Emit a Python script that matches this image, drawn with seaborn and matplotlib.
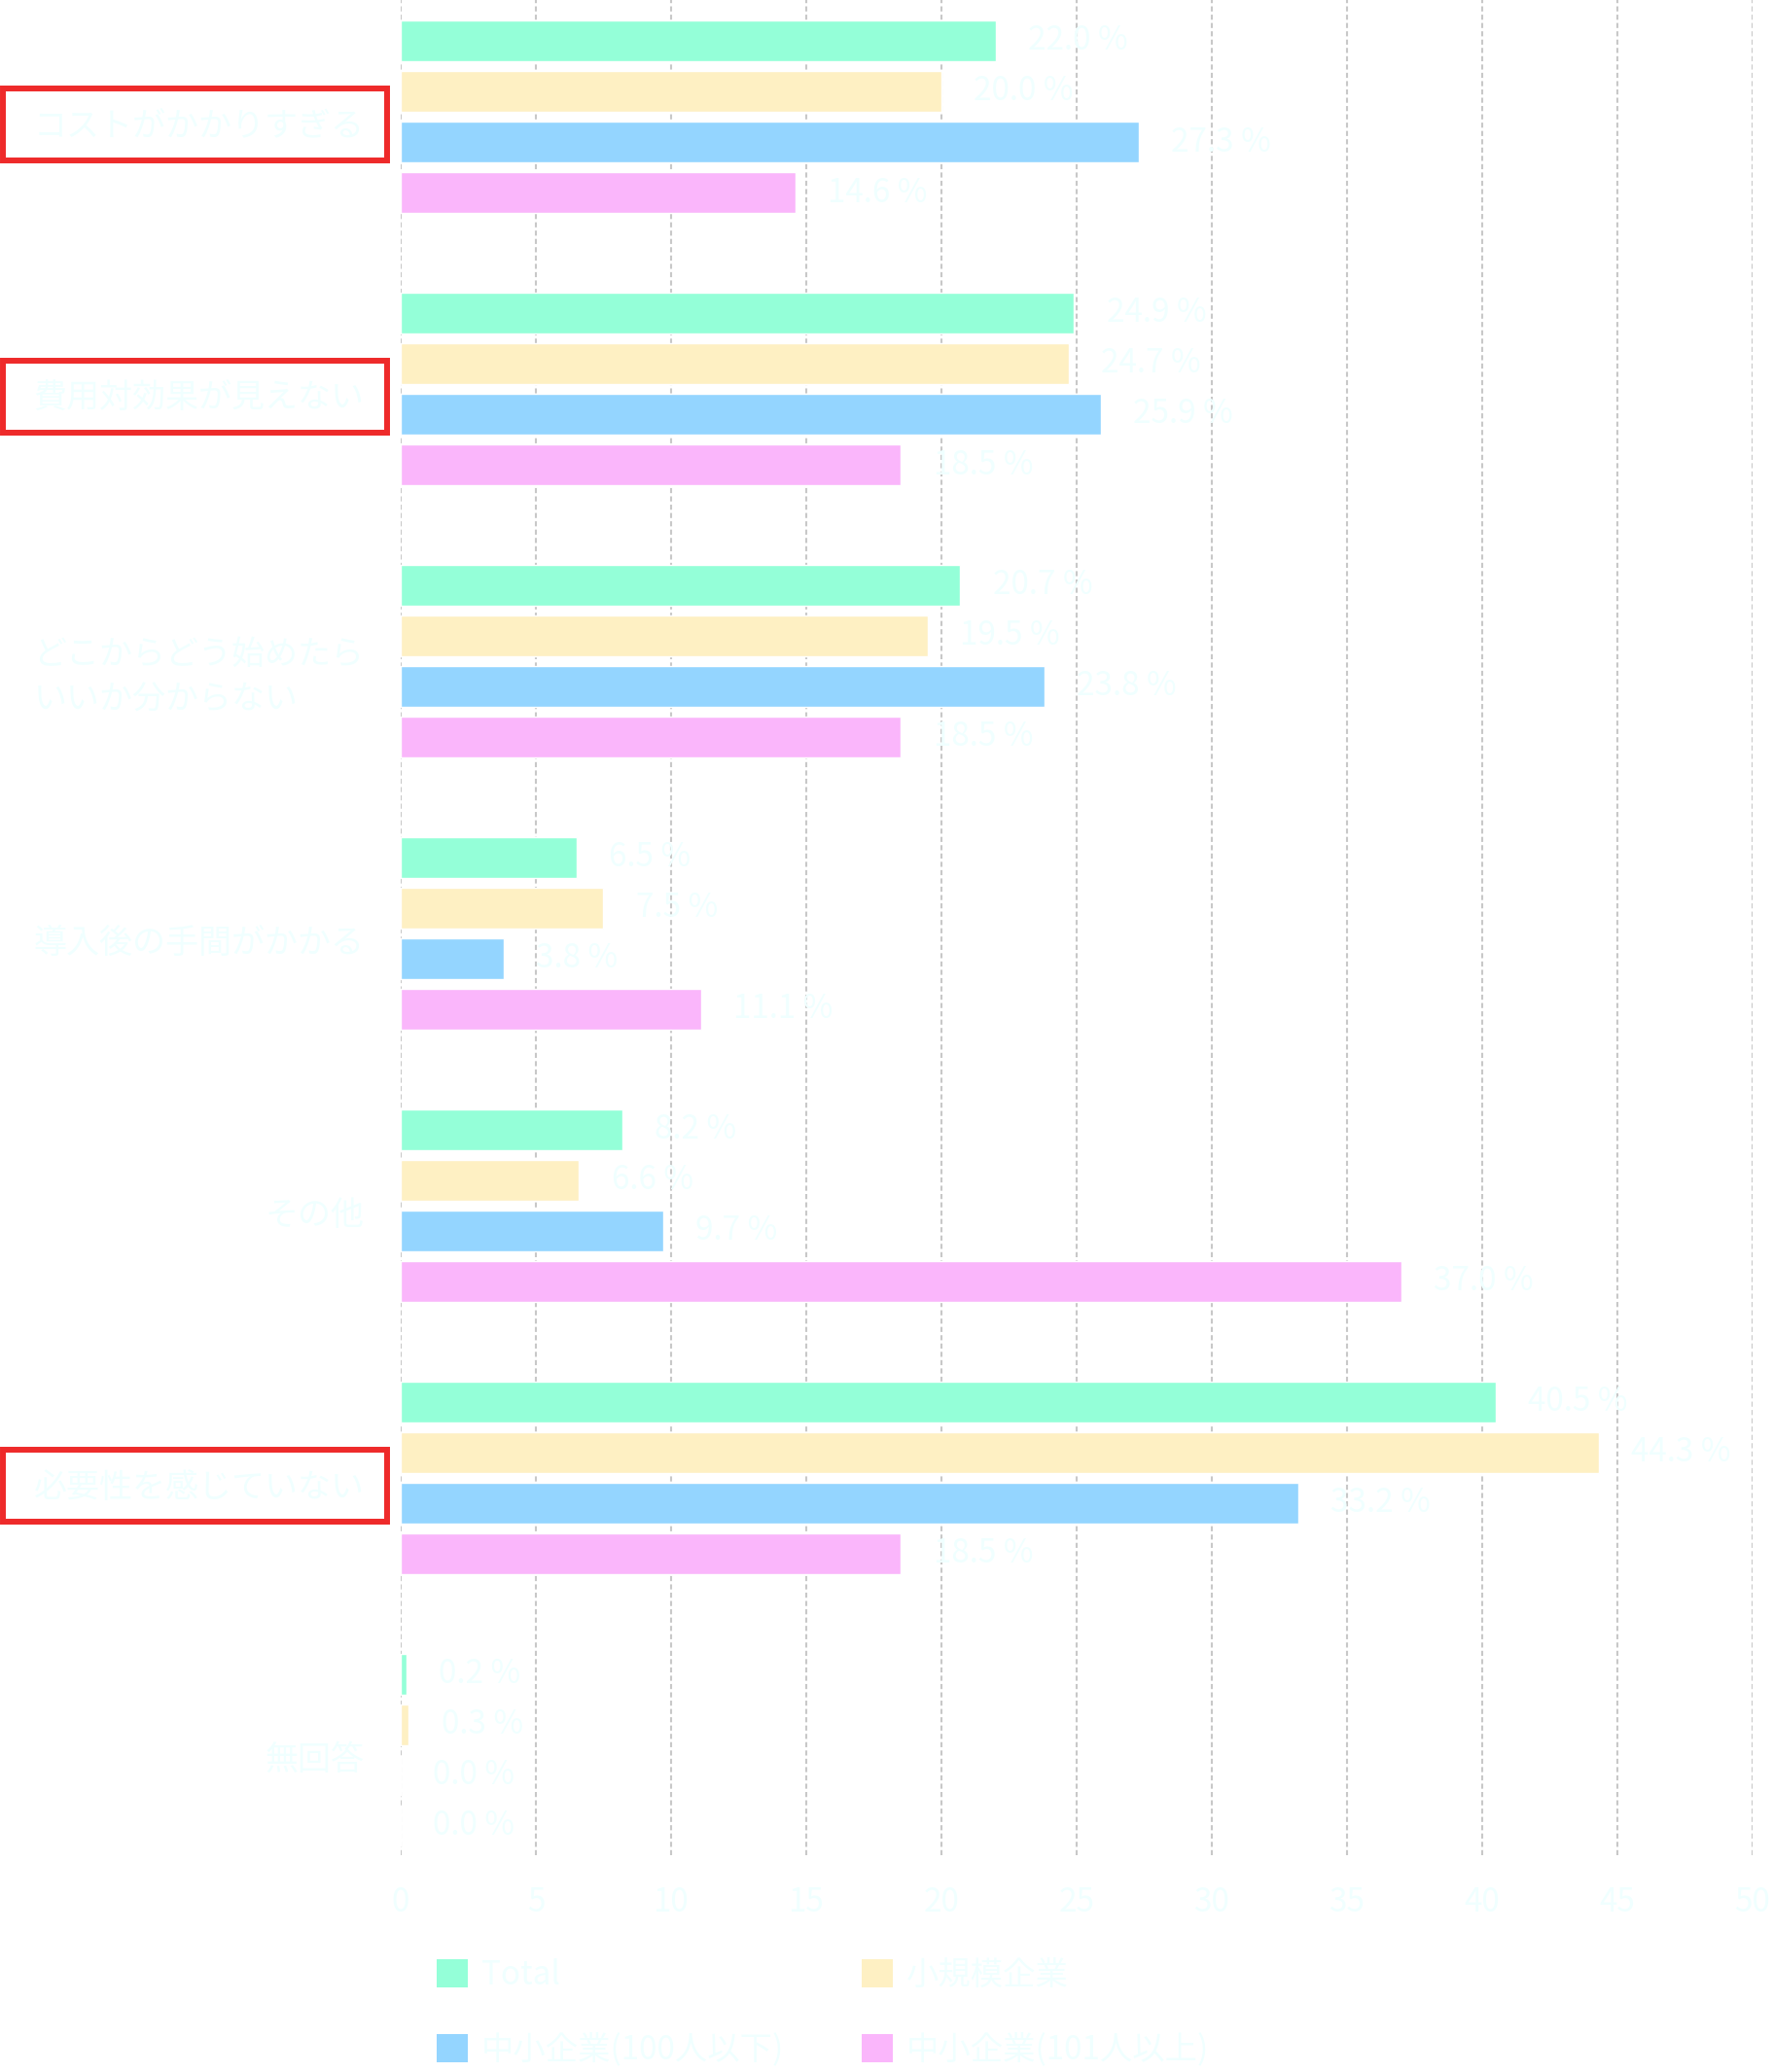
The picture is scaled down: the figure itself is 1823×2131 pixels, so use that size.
import matplotlib
matplotlib.use("Agg")
import matplotlib.pyplot as plt
import matplotlib.transforms as mtransforms
from matplotlib.patches import Rectangle, Patch
import seaborn as sns
import pandas as pd

categories = [
    "コストがかかりすぎる",
    "費用対効果が見えない",
    "どこからどう始めたら\nいいか分からない",
    "導入後の手間がかかる",
    "その他",
    "必要性を感じていない",
    "無回答",
]
series = ["Total", "小規模企業", "中小企業(100人以下)", "中小企業(101人以上)"]

total = [22.0, 24.9, 20.7, 6.5, 8.2, 40.5, 0.2]
small = [20.0, 24.7, 19.5, 7.5, 6.6, 44.3, 0.3]
sme_100 = [27.3, 25.9, 23.8, 3.8, 9.7, 33.2, 0.0]
sme_101 = [14.6, 18.5, 18.5, 11.1, 37.0, 18.5, 0.0]

highlighted = [0, 1, 5]

colors = ["#94FFD8", "#FEF0C3", "#94D5FF", "#FAB6FB"]
text_color = "#F0FFFF"

rows = []
for name, vals in zip(series, [total, small, sme_100, sme_101]):
    for cat, v in zip(categories, vals):
        rows.append({"category": cat, "series": name, "value": v})
df = pd.DataFrame(rows)

sns.set_theme(style="white")
plt.rcParams["font.family"] = ["Noto Sans CJK JP", "DejaVu Sans"]

fig = plt.figure(figsize=(18.24, 21.31), dpi=100)
ax = fig.add_axes([412 / 1824, 1 - 1908 / 2131, 1390 / 1824, 1908 / 2131])

sns.barplot(
    data=df,
    y="category",
    x="value",
    hue="series",
    order=categories,
    hue_order=series,
    palette=colors,
    orient="h",
    width=0.743,
    gap=0.19,
    saturation=1,
    errorbar=None,
    legend=False,
    ax=ax,
)

ax.set_xlim(0, 50)
ax.set_ylim(6.386, -0.4286)
ax.set_xticks(range(0, 51, 5))
ax.set_xlabel("")
ax.set_ylabel("")
for s in ax.spines.values():
    s.set_visible(False)

ax.xaxis.grid(True, color="#c8c8c8", linewidth=1.5, linestyle=(0, (2.5, 1.6)))
ax.set_axisbelow(True)
ax.tick_params(axis="x", colors="#c8c8c8", length=4, width=1, pad=18,
               labelcolor=text_color, labelsize=24)
ax.tick_params(axis="y", length=0, pad=27, labelcolor=text_color, labelsize=24.5)
shift = mtransforms.ScaledTranslation(0, -5 / 72, fig.dpi_scale_trans)
for lbl in ax.get_yticklabels():
    lbl.set_multialignment("left")
    lbl.set_linespacing(1.45)
    lbl.set_transform(lbl.get_transform() + shift)

for cont, vals in zip(ax.containers, [total, small, sme_100, sme_101]):
    ax.bar_label(cont, labels=[f"{v:.1f} %" for v in vals], padding=24,
                 color=text_color, fontsize=24)

# red frames around the highlighted labels
trans = mtransforms.blended_transform_factory(fig.transFigure, ax.transData)
for i in highlighted:
    ax.add_patch(Rectangle((3 / 1824, i + 0.03 - 0.132), 395 / 1824, 0.264,
                           transform=trans, fill=False, edgecolor="#EE2A2A",
                           linewidth=4.3, clip_on=False))

handles = [Patch(facecolor=c, edgecolor="none") for c in colors]
order = [0, 2, 1, 3]
fig.legend(
    [handles[i] for i in order],
    [series[i] for i in order],
    loc="upper left",
    bbox_to_anchor=(449 / 1824, 1 - 2014 / 2131),
    ncol=2,
    frameon=False,
    fontsize=24,
    labelcolor=text_color,
    handlelength=0.97,
    handleheight=0.97,
    handletextpad=0.4,
    columnspacing=2.4,
    labelspacing=1.25,
    borderpad=0,
    borderaxespad=0,
)

fig.savefig("out.png", dpi=100, facecolor="white")
